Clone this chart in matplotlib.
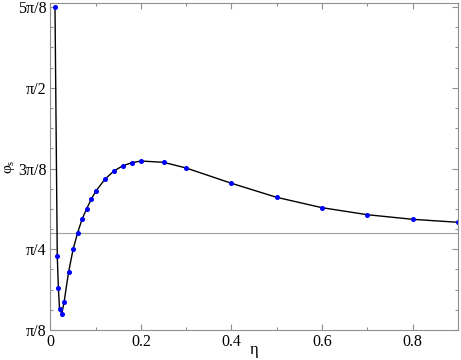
import numpy as np
import matplotlib.pyplot as plt
from matplotlib.ticker import MultipleLocator

plt.rcParams['font.family'] = ['Liberation Serif', 'DejaVu Serif']
plt.rcParams['mathtext.fontset'] = 'custom'
plt.rcParams['mathtext.rm'] = 'Liberation Serif'
plt.rcParams['mathtext.it'] = 'Liberation Serif'

eta = [0.01, 0.015, 0.0175, 0.02, 0.025, 0.03, 0.04, 0.05, 0.06, 0.07, 0.08,
       0.09, 0.10, 0.12, 0.14, 0.16, 0.18, 0.20, 0.25, 0.30, 0.40, 0.50,
       0.60, 0.70, 0.80, 0.90]
phi = [1.9635, 0.7524, 0.5953, 0.4932, 0.4720, 0.5274, 0.6747, 0.7850,
       0.8659, 0.9327, 0.9825, 1.0285, 1.0674, 1.1255, 1.1659, 1.1918,
       1.2064, 1.2146, 1.2083, 1.1804, 1.1062, 1.0379, 0.9876, 0.9535,
       0.9311, 0.9166]
phi_ref = 0.864

yticks = [np.pi/8, np.pi/4, 3*np.pi/8, np.pi/2, 5*np.pi/8]
ylabels = ['π/8', 'π/4', '3π/8', 'π/2', '5π/8']
xticks = [0, 0.2, 0.4, 0.6, 0.8]

fig = plt.figure(figsize=(4.61, 3.6), dpi=100)
ax = fig.add_axes([0.1095, 0.0833, 0.8835, 0.9075])

ax.axhline(phi_ref, color='#a0a0a0', lw=0.8)
ax.plot(eta, phi, color='black', lw=1.0)
ax.plot(eta, phi, 'o', color='blue', ms=2.6, mec='blue')

ax.set_xlim(0, 0.9)
ax.set_ylim(np.pi/8, 5.046*np.pi/8)
ax.set_xticks(xticks)
ax.set_xticklabels(['0', '0.2', '0.4', '0.6', '0.8'])
ax.set_yticks(yticks)
ax.set_yticklabels(ylabels)
ax.xaxis.set_minor_locator(MultipleLocator(0.1))
ax.yaxis.set_minor_locator(MultipleLocator(np.pi/32))

ax.tick_params(which='both', direction='in', top=True, right=True,
               color='#909090', labelsize=11.5, pad=3)
ax.tick_params(which='major', length=4.5, width=0.8)
ax.tick_params(which='minor', length=2.5, width=0.8)
for s in ax.spines.values():
    s.set_color('#909090')
    s.set_linewidth(0.8)

ax.set_xlabel('η', fontsize=12)
ax.xaxis.set_label_coords(0.5, -0.038)
ax.set_ylabel(r'$φ_s$', fontsize=11)
ax.yaxis.set_label_coords(-0.082, 0.5)

fig.savefig('out.png', dpi=100)
